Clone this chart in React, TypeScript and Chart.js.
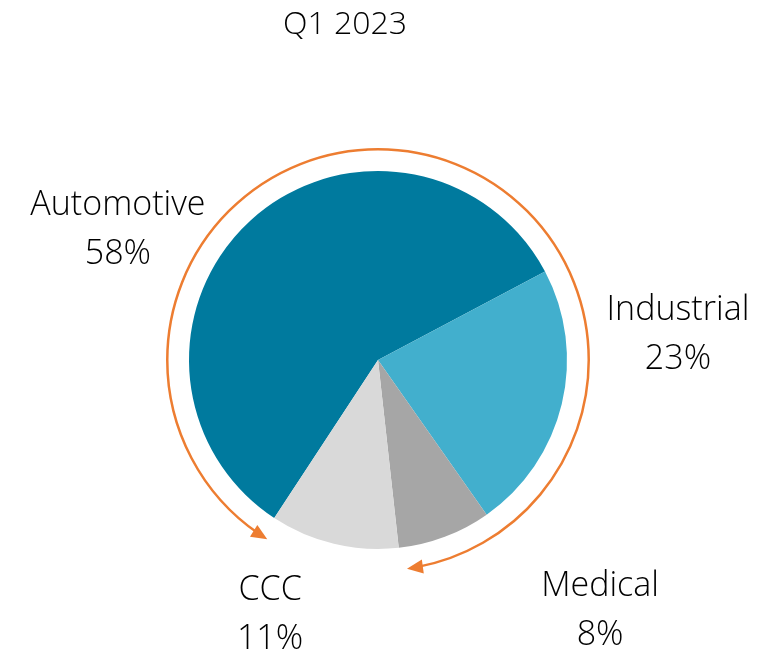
import React, { useEffect, useRef } from "react";
import { Chart, registerables } from "chart.js";

Chart.register(...registerables);

const TITLE = "Q1 2023";
const categories = ["Automotive", "Industrial", "Medical", "CCC"];
const shares = [58, 23, 8, 11];
const sliceColors = ["#007A9E", "#42AFCD", "#A6A6A6", "#D9D9D9"];
// label anchor offsets relative to pie center, in units of the pie radius
const labelOffsets: [number, number][] = [
  [-1.376, -0.685],
  [1.587, -0.128],
  [1.175, 1.332],
  [-0.571, 1.35],
];

const FONT = "'Open Sans', 'Segoe UI', sans-serif";
const ARROW = "#ED7D31";

const overlayPlugin = {
  id: "overlay",
  afterDatasetsDraw(chart: any) {
    const ctx = chart.ctx as CanvasRenderingContext2D;
    const meta = chart.getDatasetMeta(0);
    const arcs = meta.data as any[];
    if (!arcs.length) return;
    const cx = arcs[0].x;
    const cy = arcs[0].y;
    const r = arcs[0].outerRadius;

    ctx.save();
    // title
    ctx.fillStyle = "#000000";
    ctx.font = `300 32px ${FONT}`;
    ctx.textAlign = "center";
    ctx.textBaseline = "alphabetic";
    ctx.fillText(TITLE, cx - 33, 26);

    // labels
    ctx.font = `300 34px ${FONT}`;
    ctx.textBaseline = "middle";
    categories.forEach((c, i) => {
      const [ox, oy] = labelOffsets[i];
      const x = cx + ox * r;
      const y = cy + oy * r;
      ctx.fillText(c, x, y - 25);
      ctx.fillText(`${shares[i]}%`, x, y + 24);
    });

    // arrows
    const R = r * 1.115;
    const top = -Math.PI / 2;
    const cccEnd = arcs[3].endAngle; // CCC / Automotive boundary
    const medEnd = arcs[2].endAngle; // Medical / CCC boundary
    const gap = (1.6 * Math.PI) / 180;
    const normalize = (a: number) => {
      let v = a;
      while (v > Math.PI) v -= 2 * Math.PI;
      while (v < -Math.PI) v += 2 * Math.PI;
      return v;
    };
    const lEnd = normalize(cccEnd - gap);
    const rEnd = normalize(medEnd - gap);

    ctx.strokeStyle = ARROW;
    ctx.fillStyle = ARROW;
    ctx.lineWidth = 2.5;
    const head = (theta: number, ccw: boolean) => {
      const px = cx + R * Math.cos(theta);
      const py = cy + R * Math.sin(theta);
      let dx = -Math.sin(theta);
      let dy = Math.cos(theta);
      if (ccw) {
        dx = -dx;
        dy = -dy;
      }
      const L = 16;
      const W = 7;
      const bx = px - dx * L;
      const by = py - dy * L;
      ctx.beginPath();
      ctx.moveTo(px, py);
      ctx.lineTo(bx - dy * W, by + dx * W);
      ctx.lineTo(bx + dy * W, by - dx * W);
      ctx.closePath();
      ctx.fill();
    };
    const back = 10 / R;
    // right arc: clockwise from top to Medical end
    ctx.beginPath();
    ctx.arc(cx, cy, R, top, rEnd - back, false);
    ctx.stroke();
    head(rEnd, false);
    // left arc: counter-clockwise from top to CCC end
    ctx.beginPath();
    ctx.arc(cx, cy, R, top, lEnd + back, true);
    ctx.stroke();
    head(lEnd, true);
    ctx.restore();
  },
};

export default function App() {
  const ref = useRef<HTMLCanvasElement | null>(null);
  useEffect(() => {
    if (!ref.current) return;
    const chart = new Chart(ref.current, {
      type: "pie",
      data: {
        labels: categories,
        datasets: [
          {
            data: shares,
            backgroundColor: sliceColors,
            borderWidth: 0,
          },
        ],
      },
      options: {
        animation: false,
        responsive: false,
        rotation: 213.3,
        layout: { padding: { left: 181, right: 207, top: 163, bottom: 101 } },
        plugins: {
          legend: { display: false },
          title: { display: false },
          tooltip: { enabled: false },
        },
      },
      plugins: [overlayPlugin],
    });
    return () => chart.destroy();
  }, []);
  return (
    <div style={{ width: 766, height: 642 }}>
      <canvas ref={ref} width={766} height={642} />
    </div>
  );
}
